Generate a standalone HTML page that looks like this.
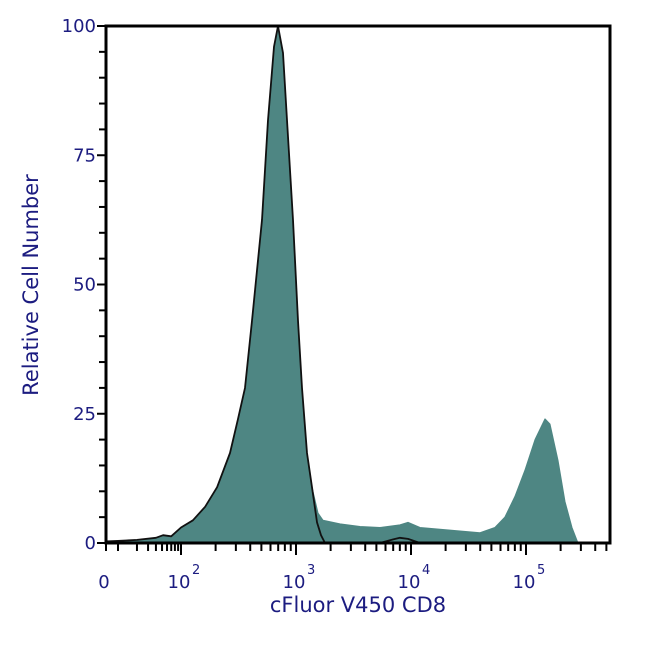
<!DOCTYPE html>
<html><head><meta charset="utf-8"><style>
body{margin:0;background:#fff;}
svg text{font-family:"DejaVu Sans","Liberation Sans",sans-serif;fill:#1c1c80;}
</style></head><body>
<svg id="chart" width="650" height="650">
<g id="marks"></g>
<g id="axes"></g>
<text x="38" y="285" font-size="21" text-anchor="middle" transform="rotate(-90 38 285)">Relative Cell Number</text>
<text x="358" y="612" font-size="21" text-anchor="middle">cFluor V450 CD8</text>
</svg>
<script>
const stainedX=[0,10,20,40,52,70,100,127,162,206,267,313,360,414,506,571,644,697,771,835,942,1041,1127,1247,1377,1553,1718,2414,3604,5375,8013,9411,11970,21840,39800,53700,65600,80100,97700,119700,146200,161800,189700,218300,251400,283300];
const stainedY=[0.3,0.4,0.6,1,1.5,1.3,3,4.4,7,10.8,17.4,24,30,43,62.5,81.8,96,100,94.8,81.8,62.5,43,30,17.4,10.8,5.8,4.4,3.7,3.2,3,3.5,4,3,2.5,2,3,5,9,14,20,24,23,16,8,3,0];
const controlX=[0,10,20,40,52,70,100,127,162,206,267,313,360,414,506,571,644,697,771,835,942,1041,1127,1247,1377,1524,1648,1786,2414,5375,7000,8013,9411,11970,21840,283300];
const controlY=[0.3,0.4,0.6,1,1.5,1.3,3,4.4,7,10.8,17.4,24,30,43,62.5,81.8,96,100,94.8,81.8,62.5,43,30,17.4,10.8,4,1.5,0,0,0,0.7,1,0.8,0,0,0];
const yTicks=[0,25,50,75,100];
const xDecades=[2,3,4,5];

const X0=106,X100=181,DEC=115,Y0=543,YTOP=26,XR=610;
function xs(v){if(v>=100)return X100+DEC*(Math.log10(v)-2);if(v>=10)return X100-63*(2-Math.log10(v));return X0+12*Math.max(v,0)/10;}
function ys(v){return Y0-(Y0-YTOP)*v/100;}
const NS="http://www.w3.org/2000/svg";
function mk(t,a,p){const e=document.createElementNS(NS,t);for(const k in a)e.setAttribute(k,a[k]);p.appendChild(e);return e;}
const marks=document.getElementById('marks'),axes=document.getElementById('axes');
let d='M'+xs(stainedX[0])+','+Y0;
stainedX.forEach((v,i)=>{d+=' L'+xs(v).toFixed(1)+','+ys(stainedY[i]).toFixed(1);});
d+=' L'+xs(stainedX[stainedX.length-1])+','+Y0+' Z';
const fill=mk('path',{d:d,fill:'#4e8683',stroke:'#4e8683','stroke-width':1,'stroke-linejoin':'round'},marks);


let d2='';
controlX.forEach((v,i)=>{d2+=(i?' L':'M')+xs(v).toFixed(1)+','+ys(controlY[i]).toFixed(1);});
const line=mk('path',{d:d2,fill:'none',stroke:'#111','stroke-width':1.8,'stroke-linejoin':'round'},marks);


const frame=mk('rect',{x:X0,y:YTOP,width:XR-X0,height:Y0-YTOP,fill:'none',stroke:'#000','stroke-width':3},axes);


for(let v=0;v<=100;v+=5){const major=v%25===0;mk('line',{x1:X0-(major?9:7),x2:X0,y1:ys(v),y2:ys(v),stroke:'#000','stroke-width':2},axes);}
yTicks.forEach(v=>{const t=mk('text',{x:X0-10,y:ys(v)+6,'font-size':18,'text-anchor':'end'},axes);t.textContent=v;

});
const minor=[];for(let v=10;v<100;v+=10)minor.push(v);
for(let e=2;e<=5;e++)for(let m=1;m<10;m++)minor.push(m*Math.pow(10,e));
minor.push(0);
minor.forEach(v=>{const x=xs(v);if(x>XR)return;const major=(Math.log10(v)%1===0&&v>=100);
mk('line',{x1:x,x2:x,y1:Y0,y2:Y0+(major?12:8),stroke:'#000','stroke-width':2},axes);});
const z=mk('text',{x:X0-2,y:588,'font-size':18,'text-anchor':'middle'},axes);z.textContent='0';


xDecades.forEach(e=>{const x=xs(Math.pow(10,e));const t=mk('text',{x:x-2,y:588,'font-size':18,'text-anchor':'middle'},axes);t.textContent='10';


const s=mk('text',{x:x+11,y:574,'font-size':13},axes);s.textContent=e;

});
</script>
</body></html>
